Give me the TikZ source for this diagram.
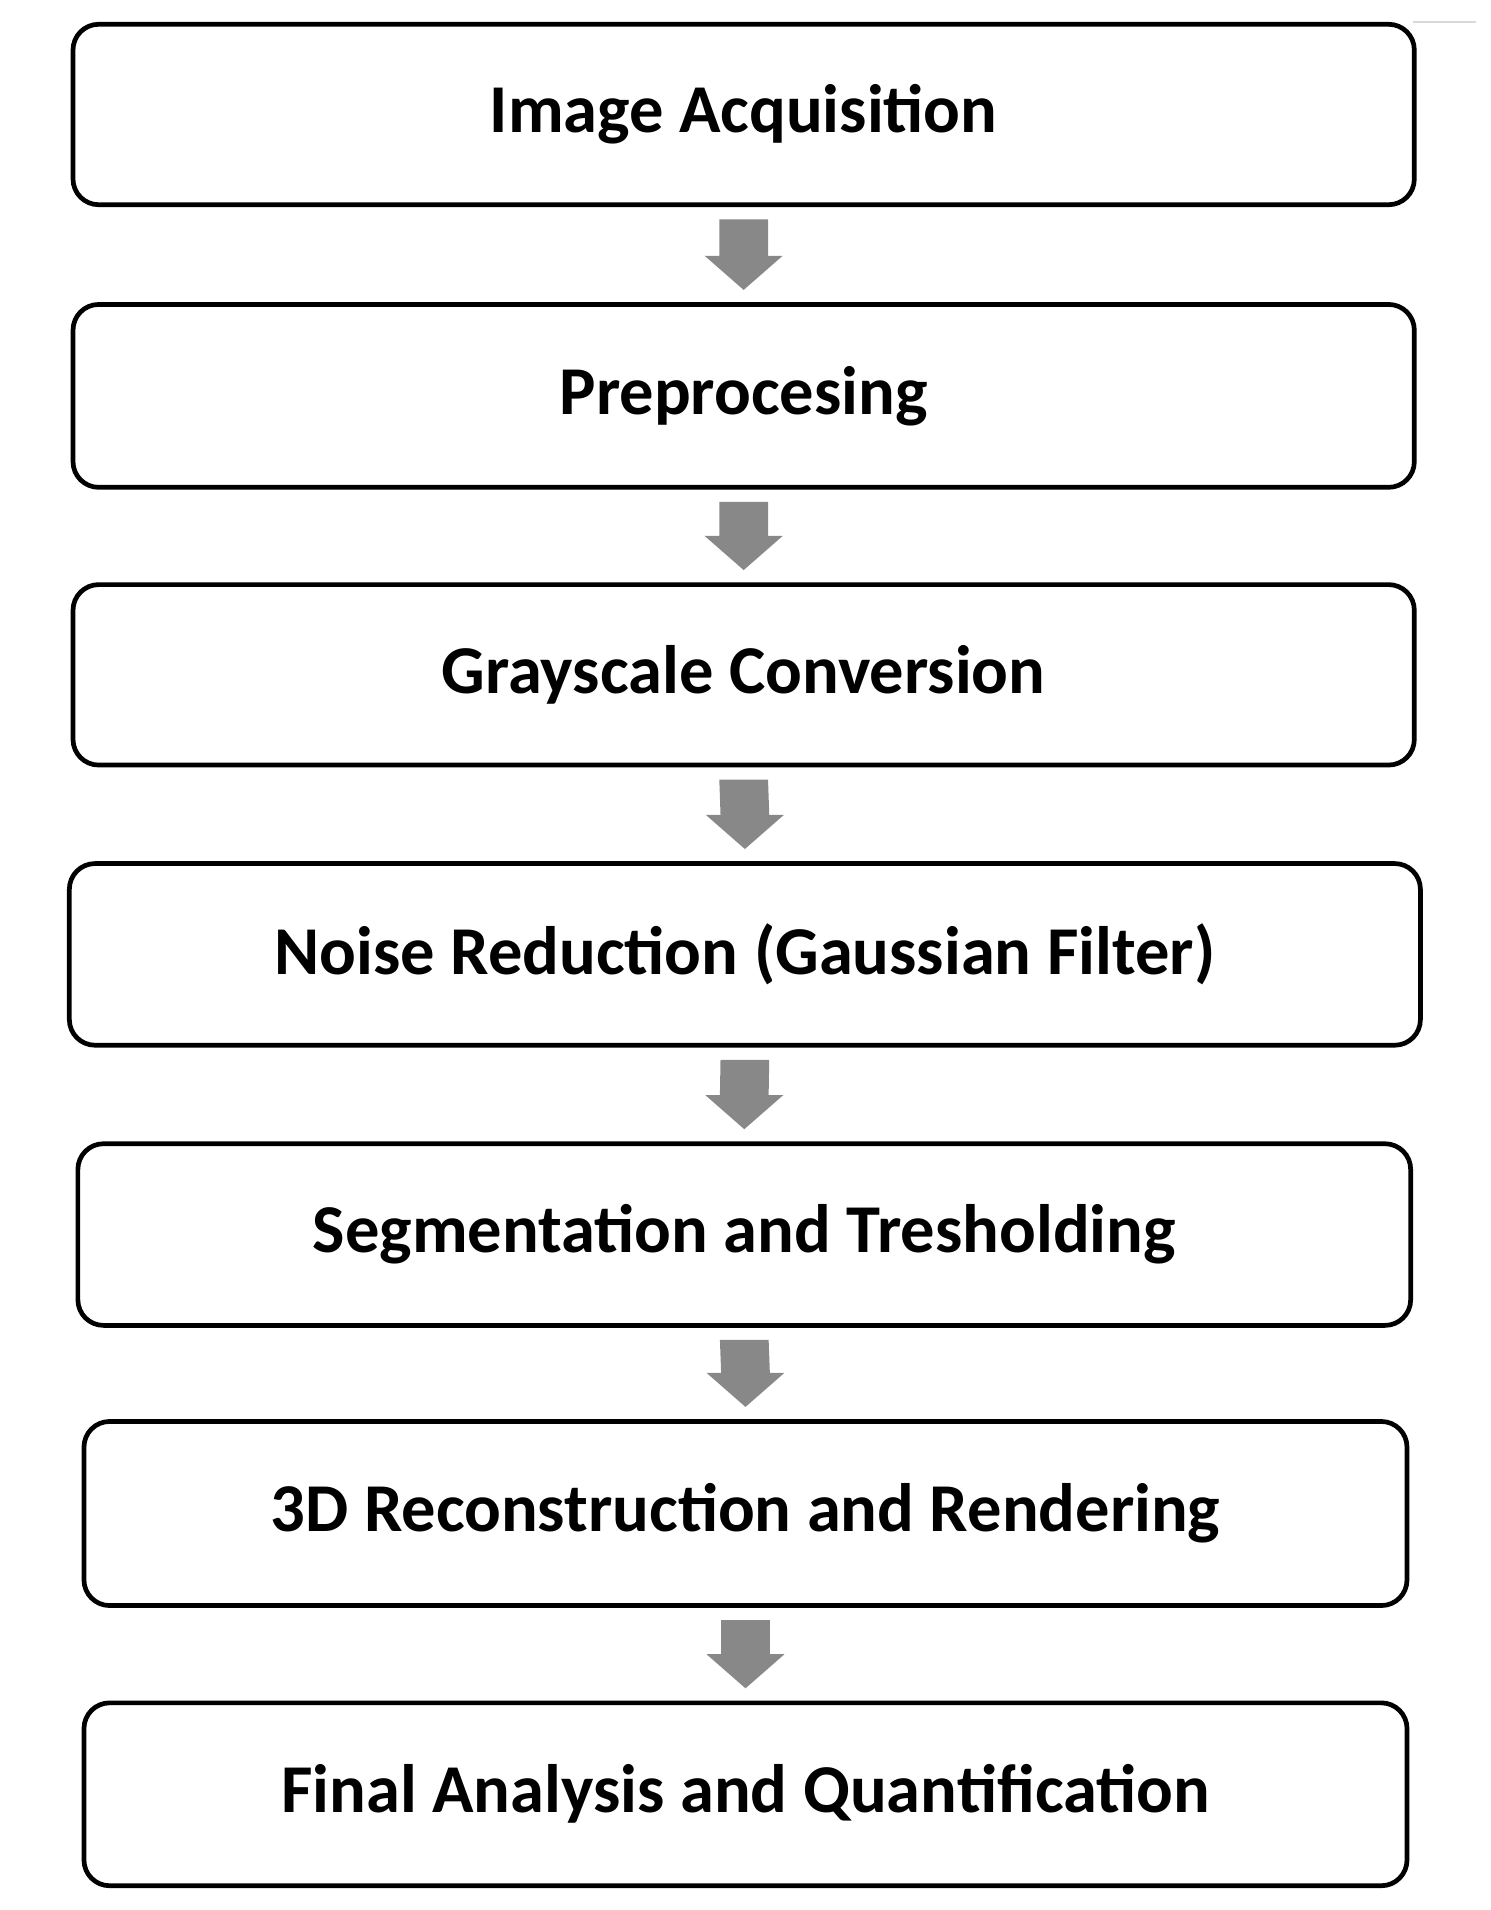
\documentclass[tikz,border=0pt]{standalone}
\usepackage{fontspec}
\setmainfont{Carlito}
\usetikzlibrary{calc}
\begin{document}
\begin{tikzpicture}[x=0.02cm,y=-0.02cm,
  box/.style={draw=black,line width=2.2pt,rounded corners=12pt,fill=white,font=\fontsize{32}{38}\selectfont\bfseries}]
\useasboundingbox (0,0) rectangle (1224,1568);
\draw[gray!30,line width=0.8pt] (1160,18) -- (1212,18);
\newcommand{\mkbox}[6]{\node[box,minimum width=#4*0.02cm-2.2pt,minimum height=#5*0.02cm-2.2pt,anchor=center] (#1) at (#2,#3) {#6};}
\mkbox{b1}{610.5}{94}{1105}{152}{Image Acquisition}
\mkbox{b2}{610.5}{325}{1105}{154}{Preprocesing}
\mkbox{b3}{610.5}{554}{1105}{152}{Grayscale Conversion}
\mkbox{b4}{611.5}{783.5}{1113}{153}{Noise Reduction (Gaussian Filter)}
\mkbox{b5}{611}{1013.5}{1098}{153}{Segmentation and Tresholding}
\mkbox{b6}{612}{1242.5}{1090}{155}{3D Reconstruction and Rendering}
\mkbox{b7}{612}{1473}{1090}{154}{Final Analysis and Quantification}
\foreach \a/\b in {b1/b2,b2/b3,b3/b4,b4/b5,b5/b6,b6/b7}{
  \path ($(\a.south)+(0,10)$) coordinate (s) ($(\b.north)+(0,-10)$) coordinate (e);
  \fill[gray!90!black!85] ($(s)+(-20,0)$) -- ($(s)+(20,0)$) -- ($(e)+(20,-28)$) -- ($(e)+(32,-28)$) -- (e) -- ($(e)+(-32,-28)$) -- ($(e)+(-20,-28)$) -- cycle;
}
\end{tikzpicture}
\end{document}
